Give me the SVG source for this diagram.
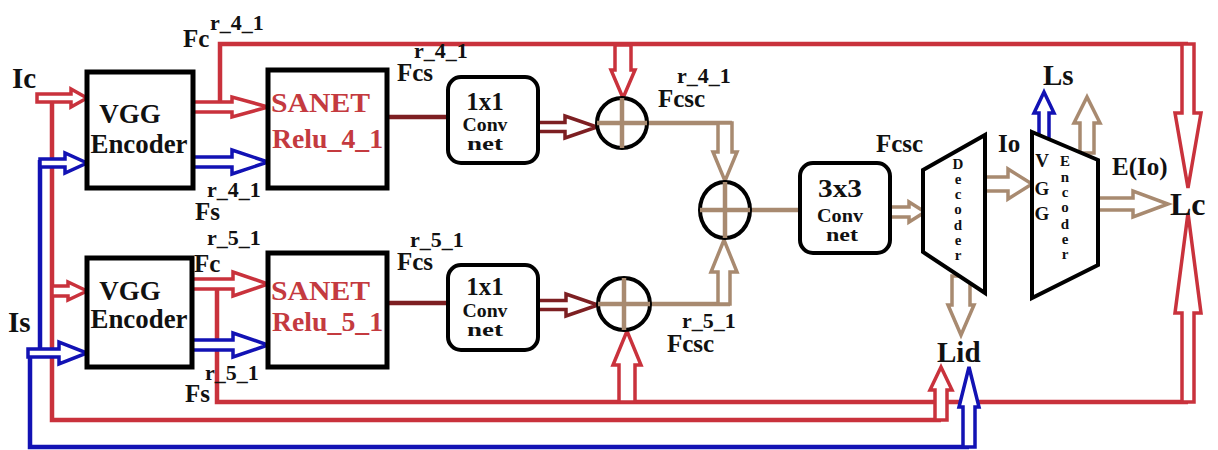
<svg xmlns="http://www.w3.org/2000/svg" width="1218" height="450" viewBox="0 0 1218 450">
<style>
.t{font-family:"Liberation Serif","Times New Roman",serif;font-weight:bold;fill:#111}
.sup{font-size:22px}
.lb{font-size:25px}
.big{font-size:29px}
.box{fill:#fff;stroke:#000;stroke-width:5}
.rbox{fill:#fff;stroke:#000;stroke-width:4}
.circ{fill:#fff;stroke:#000;stroke-width:4}
.red{fill:none;stroke:#c9323c;stroke-width:4.5}
.blue{fill:none;stroke:#1212b4;stroke-width:4.5}
.tan{fill:none;stroke:#a88a70;stroke-width:4.5}
.mar{fill:none;stroke:#7d1f22;stroke-width:4.5}
.ar{fill:#fff;stroke:#c9323c;stroke-width:3.5;stroke-linejoin:miter}
.ab{fill:#fff;stroke:#1212b4;stroke-width:3.5}
.at{fill:#fff;stroke:#a88a70;stroke-width:3.5}
.am{fill:#fff;stroke:#7d1f22;stroke-width:3.5}
.sn{fill:#c43a3f;font-size:27px}
.vt{font-size:15px}
</style>
<rect width="1218" height="450" fill="#fff"/>

<g id="connectors">
  <polyline class="red" points="220,107 220,44 1188,44"/>
  <polyline class="red" points="52,98 52,420 941,420"/>
  <polyline class="red" points="217,284 217,402 1188,402"/>
  <polyline class="blue" points="40,160 40,353"/>
  <polyline class="blue" points="30,353 30,447 969,447"/>
  <line class="mar" x1="387" y1="117" x2="448" y2="117"/>
  <line class="mar" x1="387" y1="303" x2="448" y2="303"/>
  <line class="tan" x1="647" y1="123" x2="732" y2="123"/>
  <line class="tan" x1="650" y1="304" x2="730" y2="304"/>
  <line class="tan" x1="750" y1="210" x2="800" y2="210"/>

  <polygon class="ar" points="37,94 71,94 71,89 87,98 71,107 71,102 37,102"/>
  <polygon class="ab" points="40,159 65,159 65,153 87,163 65,173 65,167 40,167"/>
  <polygon class="ar" points="193,102 232,102 232,97 268,107 232,117 232,112 193,112"/>
  <polygon class="ab" points="193,157 232,157 232,150 268,162 232,174 232,167 193,167"/>
  <polygon class="ar" points="52,286 68,286 68,282 87,291 68,300 68,296 52,296"/>
  <polygon class="ab" points="28,349 59,349 59,342 87,353 59,364 59,357 28,357"/>
  <polygon class="ar" points="192,279 233,279 233,272 268,284 233,296 233,289 192,289"/>
  <polygon class="ab" points="192,340 233,340 233,333 268,345 233,357 233,350 192,350"/>
  <polygon class="am" points="538,122.5 565,122.5 565,116 597,127 565,138 565,131.5 538,131.5"/>
  <polygon class="am" points="538,300.5 566,300.5 566,294 598,305 566,316 566,309.5 538,309.5"/>
  <polygon class="ar" points="615,45 615,70 611,70 623,98 635,70 631,70 631,45"/>
  <polygon class="ar" points="619,402 619,365 613,365 627,331 641,365 635,365 635,402"/>
  <polygon class="at" points="718,123 718,152 713,152 725,181 737,152 732,152 732,123"/>
  <polygon class="at" points="718,304 718,272 711,272 724,240 737,272 730,272 730,304"/>
  <polygon class="at" points="890,207 909,207 909,202 925,212 909,222 909,217 890,217"/>
  <polygon class="at" points="985,177 1008,177 1008,169 1032,184 1008,199 1008,191 985,191"/>
  <polygon class="at" points="1098,198 1133,198 1133,191 1168,204 1133,217 1133,210 1098,210"/>
  <polygon class="at" points="952,276 952,305 948,305 961,335 974,305 970,305 970,276"/>
  <polygon class="ab" points="1039,140 1039,113 1034,113 1044,92 1054,113 1049,113 1049,140"/>
  <polygon class="at" points="1080,153 1080,123 1074,123 1087,97 1100,123 1094,123 1094,153"/>
  <polygon class="ar" points="1182,44 1182,113 1175,113 1188,188 1201,113 1194,113 1194,44"/>
  <polygon class="ar" points="1182,402 1182,313 1175,313 1188,213 1201,313 1194,313 1194,402"/>
  <polygon class="ar" points="935,420 935,390 930,390 941,367 952,390 947,390 947,420"/>
  <polygon class="ab" points="963,447 963,407 959,407 969,367 979,407 975,407 975,447"/>
</g>

<g id="vgg1"><rect class="box" x="87" y="72" width="106" height="116"/>
  <text class="t" x="130" y="123" font-size="27" text-anchor="middle">VGG</text>
  <text class="t" x="139" y="153" font-size="27" text-anchor="middle" textLength="97" lengthAdjust="spacingAndGlyphs">Encoder</text></g>
<g id="vgg2"><rect class="box" x="87" y="258" width="105" height="109"/>
  <text class="t" x="130" y="300" font-size="27" text-anchor="middle">VGG</text>
  <text class="t" x="139" y="328" font-size="27" text-anchor="middle" textLength="97" lengthAdjust="spacingAndGlyphs">Encoder</text></g>
<g id="sanet1"><rect class="box" x="268" y="70" width="119" height="118"/>
  <text class="t sn" x="271" y="112" textLength="99" lengthAdjust="spacingAndGlyphs">SANET</text>
  <text class="t sn" x="272" y="148" textLength="111" lengthAdjust="spacingAndGlyphs">Relu_4_1</text></g>
<g id="sanet2"><rect class="box" x="268" y="253" width="119" height="114"/>
  <text class="t sn" x="271" y="300" textLength="99" lengthAdjust="spacingAndGlyphs">SANET</text>
  <text class="t sn" x="272" y="331" textLength="111" lengthAdjust="spacingAndGlyphs">Relu_5_1</text></g>
<g id="conv1a"><rect class="rbox" x="448" y="77" width="90" height="86" rx="13"/>
  <text class="t" x="485" y="110" font-size="25" text-anchor="middle">1x1</text>
  <text class="t" x="485" y="131" font-size="19" text-anchor="middle" textLength="45" lengthAdjust="spacingAndGlyphs">Conv</text>
  <text class="t" x="485" y="150" font-size="19" text-anchor="middle" textLength="36" lengthAdjust="spacingAndGlyphs">net</text></g>
<g id="conv1b"><rect class="rbox" x="448" y="265" width="90" height="85" rx="13"/>
  <text class="t" x="485" y="295" font-size="25" text-anchor="middle">1x1</text>
  <text class="t" x="485" y="317" font-size="19" text-anchor="middle" textLength="45" lengthAdjust="spacingAndGlyphs">Conv</text>
  <text class="t" x="485" y="336" font-size="19" text-anchor="middle" textLength="36" lengthAdjust="spacingAndGlyphs">net</text></g>
<g id="add1"><circle class="circ" cx="622" cy="123" r="25"/>
  <line class="tan" x1="597" y1="123" x2="647" y2="123"/><line class="tan" x1="622" y1="98" x2="622" y2="148"/></g>
<g id="add2"><circle class="circ" cx="624" cy="304" r="26"/>
  <line class="tan" x1="598" y1="304" x2="650" y2="304"/><line class="tan" x1="624" y1="278" x2="624" y2="330"/></g>
<g id="add3"><ellipse class="circ" cx="725" cy="210" rx="25" ry="28"/>
  <line class="tan" x1="700" y1="210" x2="750" y2="210"/><line class="tan" x1="725" y1="182" x2="725" y2="238"/></g>
<g id="conv3"><rect class="rbox" x="800" y="163" width="90" height="90" rx="13"/>
  <text class="t" x="840" y="197" font-size="26" text-anchor="middle" textLength="44" lengthAdjust="spacingAndGlyphs">3x3</text>
  <text class="t" x="840" y="222" font-size="19" text-anchor="middle" textLength="46" lengthAdjust="spacingAndGlyphs">Conv</text>
  <text class="t" x="842" y="241" font-size="19" text-anchor="middle" textLength="32" lengthAdjust="spacingAndGlyphs">net</text></g>
<g id="decoder"><polygon class="rbox" points="923,170 985,135 985,293 923,252"/>
  <g class="t vt" text-anchor="middle">
  <text x="958" y="169">D</text><text x="958" y="184">e</text><text x="958" y="199">c</text><text x="958" y="214">o</text><text x="958" y="230">d</text><text x="958" y="245">e</text><text x="958" y="260">r</text></g></g>
<g id="encoder"><polygon class="rbox" points="1032,132 1098,160 1098,265 1032,298"/>
  <g class="t" text-anchor="middle" font-size="19">
  <text x="1042" y="167">V</text><text x="1042" y="195">G</text><text x="1042" y="220">G</text></g>
  <g class="t vt" text-anchor="middle">
  <text x="1065" y="166">E</text><text x="1065" y="182">n</text><text x="1065" y="197">c</text><text x="1065" y="212">o</text><text x="1065" y="229">d</text><text x="1065" y="244">e</text><text x="1065" y="259">r</text></g></g>

<g id="labels" class="t">
  <text class="big" x="12" y="88">Ic</text>
  <text class="big" x="8" y="332">Is</text>
  <text class="lb" x="183" y="47">Fc</text><text class="sup" x="210" y="30">r_4_1</text>
  <text class="sup" x="207" y="197">r_4_1</text><text class="lb" x="195" y="220">Fs</text>
  <text class="sup" x="207" y="245">r_5_1</text><text class="lb" x="194" y="272">Fc</text>
  <text class="sup" x="205" y="380">r_5_1</text><text class="lb" x="185" y="402">Fs</text>
  <text class="lb" x="397" y="81">Fcs</text><text class="sup" x="414" y="58">r_4_1</text>
  <text class="sup" x="410" y="247">r_5_1</text><text class="lb" x="397" y="270">Fcs</text>
  <text class="lb" x="658" y="107">Fcsc</text><text class="sup" x="677" y="83">r_4_1</text>
  <text class="sup" x="682" y="328">r_5_1</text><text class="lb" x="667" y="352">Fcsc</text>
  <text class="lb" x="876" y="152">Fcsc</text>
  <text class="lb" x="998" y="152">Io</text>
  <text class="big" x="1043" y="85">Ls</text>
  <text class="lb" x="1112" y="175">E(Io)</text>
  <text class="t" x="1170" y="215" font-size="32">Lc</text>
  <text class="big" x="937" y="362">Lid</text>
</g>
</svg>
